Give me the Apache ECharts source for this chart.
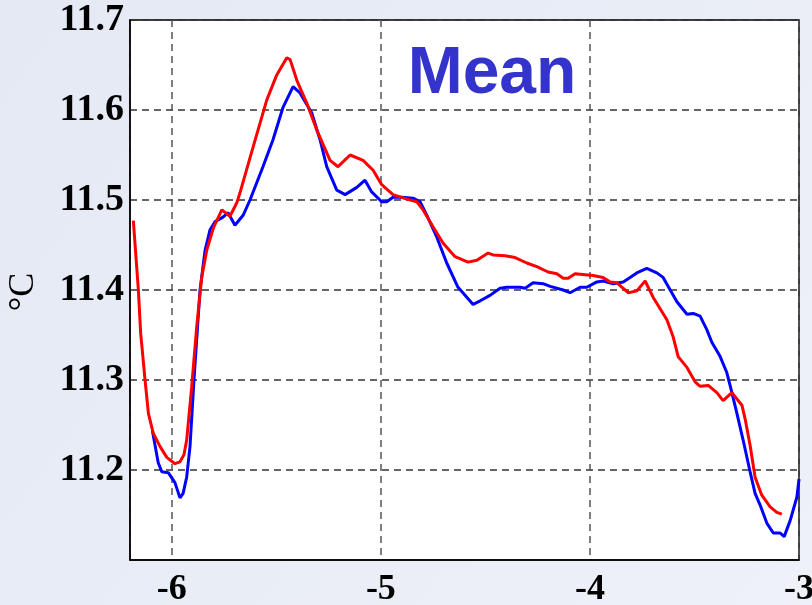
<!DOCTYPE html>
<html>
<head>
<meta charset="utf-8">
<script src="https://cdn.jsdelivr.net/npm/echarts@6/dist/echarts.min.js"></script>
<style>
html,body{margin:0;padding:0;background:#e8ecf5;}
#c{width:812px;height:605px;}
</style>
</head>
<body>
<div id="c"></div>
<script>
// Red series (x, °C)
const redX = [-6.184,-6.160,-6.149,-6.128,-6.112,-6.089,-6.056,-6.024,-5.985,-5.961,-5.942,-5.929,-5.905,-5.881,-5.857,-5.833,-5.801,-5.761,-5.722,-5.689,-5.674,-5.611,-5.546,-5.498,-5.450,-5.434,-5.402,-5.355,-5.307,-5.243,-5.205,-5.147,-5.085,-5.037,-4.996,-4.942,-4.876,-4.828,-4.798,-4.750,-4.702,-4.645,-4.583,-4.541,-4.487,-4.463,-4.406,-4.358,-4.302,-4.254,-4.200,-4.158,-4.128,-4.104,-4.071,-4.023,-3.985,-3.937,-3.903,-3.871,-3.817,-3.776,-3.736,-3.698,-3.632,-3.602,-3.578,-3.536,-3.497,-3.473,-3.434,-3.393,-3.363,-3.321,-3.273,-3.257,-3.233,-3.210,-3.178,-3.138,-3.106,-3.082];
const redY = [11.477,11.400,11.352,11.300,11.263,11.241,11.226,11.214,11.207,11.209,11.217,11.233,11.292,11.359,11.414,11.444,11.469,11.489,11.482,11.497,11.508,11.559,11.611,11.639,11.658,11.656,11.633,11.608,11.578,11.544,11.537,11.550,11.544,11.533,11.517,11.506,11.501,11.498,11.489,11.470,11.452,11.437,11.431,11.433,11.441,11.439,11.438,11.436,11.430,11.426,11.420,11.418,11.413,11.413,11.418,11.417,11.416,11.414,11.409,11.408,11.397,11.399,11.410,11.392,11.367,11.348,11.326,11.314,11.298,11.293,11.294,11.286,11.277,11.286,11.272,11.256,11.226,11.192,11.172,11.159,11.153,11.151];
// Blue series (x, °C)
const blueX = [-6.093,-6.065,-6.048,-6.017,-5.985,-5.961,-5.946,-5.929,-5.913,-5.894,-5.865,-5.841,-5.817,-5.793,-5.755,-5.731,-5.698,-5.659,-5.626,-5.564,-5.516,-5.468,-5.420,-5.387,-5.331,-5.291,-5.259,-5.211,-5.171,-5.115,-5.076,-5.044,-4.996,-4.972,-4.942,-4.900,-4.846,-4.812,-4.780,-4.733,-4.685,-4.631,-4.589,-4.559,-4.525,-4.478,-4.430,-4.398,-4.334,-4.310,-4.272,-4.224,-4.190,-4.128,-4.095,-4.071,-4.047,-4.015,-3.967,-3.937,-3.889,-3.841,-3.808,-3.776,-3.728,-3.680,-3.650,-3.616,-3.584,-3.536,-3.506,-3.497,-3.473,-3.441,-3.417,-3.377,-3.345,-3.321,-3.297,-3.267,-3.233,-3.210,-3.186,-3.154,-3.123,-3.090,-3.071,-3.042,-3.010,-3.000];
const blueY = [11.244,11.208,11.198,11.197,11.186,11.169,11.174,11.192,11.226,11.300,11.400,11.444,11.467,11.476,11.481,11.486,11.472,11.483,11.500,11.537,11.567,11.603,11.626,11.619,11.597,11.567,11.537,11.511,11.506,11.514,11.522,11.509,11.498,11.498,11.503,11.503,11.502,11.498,11.483,11.459,11.430,11.403,11.392,11.384,11.388,11.394,11.402,11.403,11.403,11.402,11.408,11.407,11.404,11.400,11.397,11.400,11.403,11.403,11.409,11.410,11.407,11.409,11.414,11.419,11.424,11.419,11.414,11.400,11.387,11.373,11.374,11.376,11.371,11.356,11.342,11.326,11.308,11.286,11.263,11.233,11.197,11.174,11.161,11.141,11.130,11.130,11.126,11.144,11.170,11.190];
const yTickLabels = ['11.2','11.3','11.4','11.5','11.6','11.7'];
const xTickLabels = ['-6','-5','-4','-3'];
const titleText = 'Mean';
const unitText = '°C';

const chart = echarts.init(document.getElementById('c'));
const zip = (xs, ys) => xs.map((x, i) => [x, ys[i]]);
const labelFont = {color:'#000', fontFamily:'"Liberation Serif","Times New Roman",serif', fontWeight:'bold', fontSize:38};
chart.setOption({
  backgroundColor: new echarts.graphic.LinearGradient(0,0,1,1,[{offset:0,color:'#e4e9f4'},{offset:1,color:'#eef1f8'}]),
  animation:false,
  grid:{left:130,right:13,top:20,bottom:45,outerBoundsMode:'none',containLabel:false,show:true,backgroundColor:'#fff',borderColor:'#000',borderWidth:1.5},
  xAxis:{type:'value',min:-6.2,max:-3,splitNumber:3,
    axisLine:{show:true,lineStyle:{color:'#000',width:1.5}},axisTick:{show:false},
    axisLabel:Object.assign({},labelFont,{fontSize:36,showMinLabel:false,margin:12,
      formatter:v=>{const s=String(Math.round(v)); return xTickLabels.indexOf(s)>=0?s:'';}}),
    splitLine:{show:true,lineStyle:{color:'#555',type:[7,5],width:1.5}}},
  yAxis:{type:'value',min:11.1,max:11.7,interval:0.1,
    axisLine:{show:true,lineStyle:{color:'#000',width:1.5}},axisTick:{show:false},
    axisLabel:Object.assign({showMinLabel:false,margin:6,
      formatter:v=>{const s=v.toFixed(1); return yTickLabels.indexOf(s)>=0?s:'';}},labelFont),
    splitLine:{show:true,lineStyle:{color:'#333',type:[7,5],width:1.5}}},
  series:[
    {type:'line',data:zip(blueX,blueY),symbol:'none',lineStyle:{color:'#0000ff',width:3},z:2},
    {type:'line',data:zip(redX,redY),symbol:'none',lineStyle:{color:'#ff0000',width:3},z:3}
  ],
  graphic:[
    {type:'text',x:492,y:75,style:{text:titleText,fill:'#3434cc',font:'bold 66px "Liberation Sans",Arial,sans-serif',align:'center',verticalAlign:'middle'}},
    {type:'text',x:24,y:292,rotation:Math.PI/2,style:{text:unitText,fill:'#000',font:'36px "Liberation Serif","Times New Roman",serif',align:'center',verticalAlign:'middle'}}
  ]
});
</script>
</body>
</html>
